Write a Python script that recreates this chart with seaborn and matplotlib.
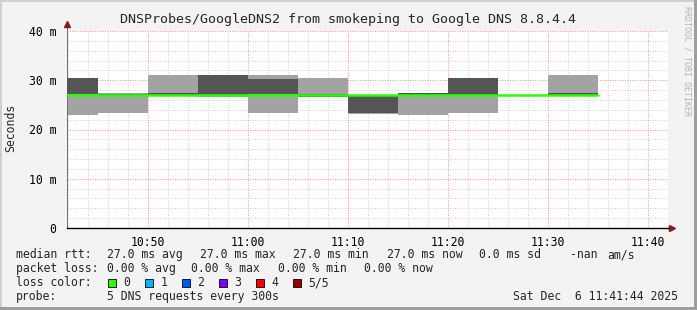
import matplotlib
matplotlib.use("Agg")
import matplotlib.pyplot as plt
from matplotlib.patches import Rectangle
import seaborn as sns
import pandas as pd
import numpy as np

# ---- data -------------------------------------------------------------
probe_times = ["10:40", "10:45", "10:50", "10:55", "11:00", "11:05",
               "11:10", "11:15", "11:20", "11:25", "11:30"]
step_minutes = 5
light_lo = [23.0, 23.35, 27.2, 26.6, 23.35, 26.6, 23.1, 23.0, 23.35, 27.0, 27.2]
light_hi = [30.46, 27.35, 31.07, 31.07, 31.07, 30.46, 27.0, 27.5, 30.46, 27.1, 31.07]
dark_lo = [27.3, 27.0, 27.0, 26.8, 27.3, 26.6, 23.35, 27.0, 27.0, 27.0, 27.0]
dark_hi = [30.46, 27.3, 27.5, 31.07, 30.3, 27.2, 27.0, 27.5, 30.46, 27.1, 27.5]
median_rtt = [27.0] * 11

x_tick_labels = ["10:50", "11:00", "11:10", "11:20", "11:30", "11:40"]
y_ticks = [0, 10, 20, 30, 40]
y_tick_labels = ["0", "10 m", "20 m", "30 m", "40 m"]
view_start, view_end = "10:41:54", "11:42:00"

title = "DNSProbes/GoogleDNS2 from smokeping to Google DNS 8.8.4.4"
loss_labels = ["0", "1", "2", "3", "4", "5/5"]
loss_colors = ["#26ff00", "#00b8ff", "#0059ff", "#7e00ff", "#ff0000", "#a10000"]


def to_min(s):
    parts = [int(p) for p in s.split(":")]
    while len(parts) < 3:
        parts.append(0)
    return parts[0] * 60 + parts[1] + parts[2] / 60.0


xs = np.array([to_min(t) for t in probe_times])

# ---- figure -----------------------------------------------------------
sns.set_style("white")
mono = ["DejaVu Sans Mono"]
plt.rcParams["font.family"] = mono

W, H = 697, 310
fig = plt.figure(figsize=(W / 100, H / 100), dpi=100, facecolor="#f3f3f3")
L, R, T, B = 67, 668, 31, 228
ax = fig.add_axes([L / W, 1 - B / H, (R - L) / W, (B - T) / H])
ax.set_facecolor("white")

x0, x1 = to_min(view_start), to_min(view_end)
ax.set_xlim(x0, x1)
ax.set_ylim(0, 40)

# grid
px = 1 / 100 * 72
for v in np.arange(0, 41, 2):
    if v % 10:
        ax.axhline(v, color="#d0d0d0", lw=px, ls=(0, (1, 1.5)), zorder=0)
for v in np.arange(to_min("10:42"), x1, 2):
    if round(v) % 10:
        ax.axvline(v, color="#d0d0d0", lw=px, ls=(0, (1, 1.5)), zorder=0)
for v in y_ticks:
    ax.axhline(v, color="#ff8f8f", lw=px, ls=(0, (1, 1.5)), zorder=0.5)
xt = [to_min(t) for t in x_tick_labels]
for v in xt:
    ax.axvline(v, color="#ff8f8f", lw=px, ls=(0, (1, 1.5)), zorder=0.5)

# smoke
ax.bar(xs, np.array(light_hi) - np.array(light_lo), bottom=light_lo,
       width=step_minutes, align="edge", color="#a3a3a3", lw=0, zorder=2)
ax.bar(xs, np.array(dark_hi) - np.array(dark_lo), bottom=dark_lo,
       width=step_minutes, align="edge", color="#555555", lw=0, zorder=3)

# median line
med_df = pd.DataFrame({"t": list(xs) + [xs[-1] + step_minutes],
                       "rtt": median_rtt + [median_rtt[-1]]})
sns.lineplot(data=med_df, x="t", y="rtt", drawstyle="steps-post",
             color=loss_colors[0], lw=1.8, ax=ax, zorder=4)
ax.set_xlabel("")
ax.set_ylabel("")

# ticks
ax.set_xticks(xt)
ax.set_xticklabels(x_tick_labels)
ax.set_yticks(y_ticks)
ax.set_yticklabels(y_tick_labels)
ax.tick_params(axis="both", labelsize=8.3, colors="#000000", length=2.5,
               width=px, pad=5)
ax.tick_params(axis="x", length=0, pad=6)
ax.tick_params(axis="y", color="#707070")
for s in ["top", "right"]:
    ax.spines[s].set_visible(False)
ax.spines["left"].set_color("#707070")
ax.spines["left"].set_linewidth(px)
ax.spines["bottom"].set_color("#000000")
ax.spines["bottom"].set_linewidth(1.0)

# arrows
ax.plot([x0, x0], [40, 41.3], color="#707070", lw=px, clip_on=False)
ax.plot([x0], [41.4], marker="^", color="#8b1a1a", ms=4, clip_on=False)
ax.plot([x1, x1 + 0.25], [0, 0], color="#000000", lw=1, clip_on=False)
ax.plot([x1 + 0.35], [0], marker=">", color="#8b1a1a", ms=4, clip_on=False)

# texts
fig.text(0.5, 1 - 19 / H, title, ha="center", va="center", fontsize=9.6)
fig.text(11 / W, 1 - 128 / H, "Seconds", rotation=90, ha="center",
         va="center", fontsize=8.3)
fig.text(687 / W, 1 - 61 / H, "RRDTOOL / TOBI OETIKER", rotation=270,
         ha="center", va="center", fontsize=6, color="#b4b4b4")


def ftxt(x, y, s):
    fig.text(x / W, 1 - y / H, s, ha="left", va="center", fontsize=8.3)


row1 = [(16, "median rtt:"), (107, "27.0 ms avg"), (200, "27.0 ms max"),
        (293, "27.0 ms min"), (387, "27.0 ms now"), (479, "0.0 ms sd"),
        (570, "-nan"), (607, "am/s")]
row2 = [(16, "packet loss:"), (107, "0.00 % avg"), (191, "0.00 % max"),
        (278, "0.00 % min"), (364, "0.00 % now")]
row4 = [(16, "probe:"), (107, "5 DNS requests every 300s"),
        (513, "Sat Dec  6 11:41:44 2025")]
for x, s in row1:
    ftxt(x, 254.5, s)
for x, s in row2:
    ftxt(x, 268.5, s)
ftxt(16, 282.5, "loss color:")
for x, s in row4:
    ftxt(x, 296.5, s)

box_x = [108, 145, 182, 219, 256, 293]
for bx, lab, col in zip(box_x, loss_labels, loss_colors):
    fig.patches.append(Rectangle((bx / W, 1 - 286.5 / H), 7.5 / W, 8 / H,
                                 transform=fig.transFigure, facecolor=col,
                                 edgecolor="#000000", lw=0.6))
    ftxt(bx + 15.5, 282.5, lab)

# frame
fig.patches.append(Rectangle((0, 0), 2 / W, 1, transform=fig.transFigure,
                             facecolor="#cfcfcf", lw=0))
fig.patches.append(Rectangle((0, 1 - 2 / H), 1, 2 / H, transform=fig.transFigure,
                             facecolor="#cfcfcf", lw=0))
fig.patches.append(Rectangle((1 - 3 / W, 0), 3 / W, 1, transform=fig.transFigure,
                             facecolor="#9e9e9e", lw=0))
fig.patches.append(Rectangle((0, 0), 1, 3 / H, transform=fig.transFigure,
                             facecolor="#9e9e9e", lw=0))

fig.savefig("out.png", dpi=100, facecolor=fig.get_facecolor())
